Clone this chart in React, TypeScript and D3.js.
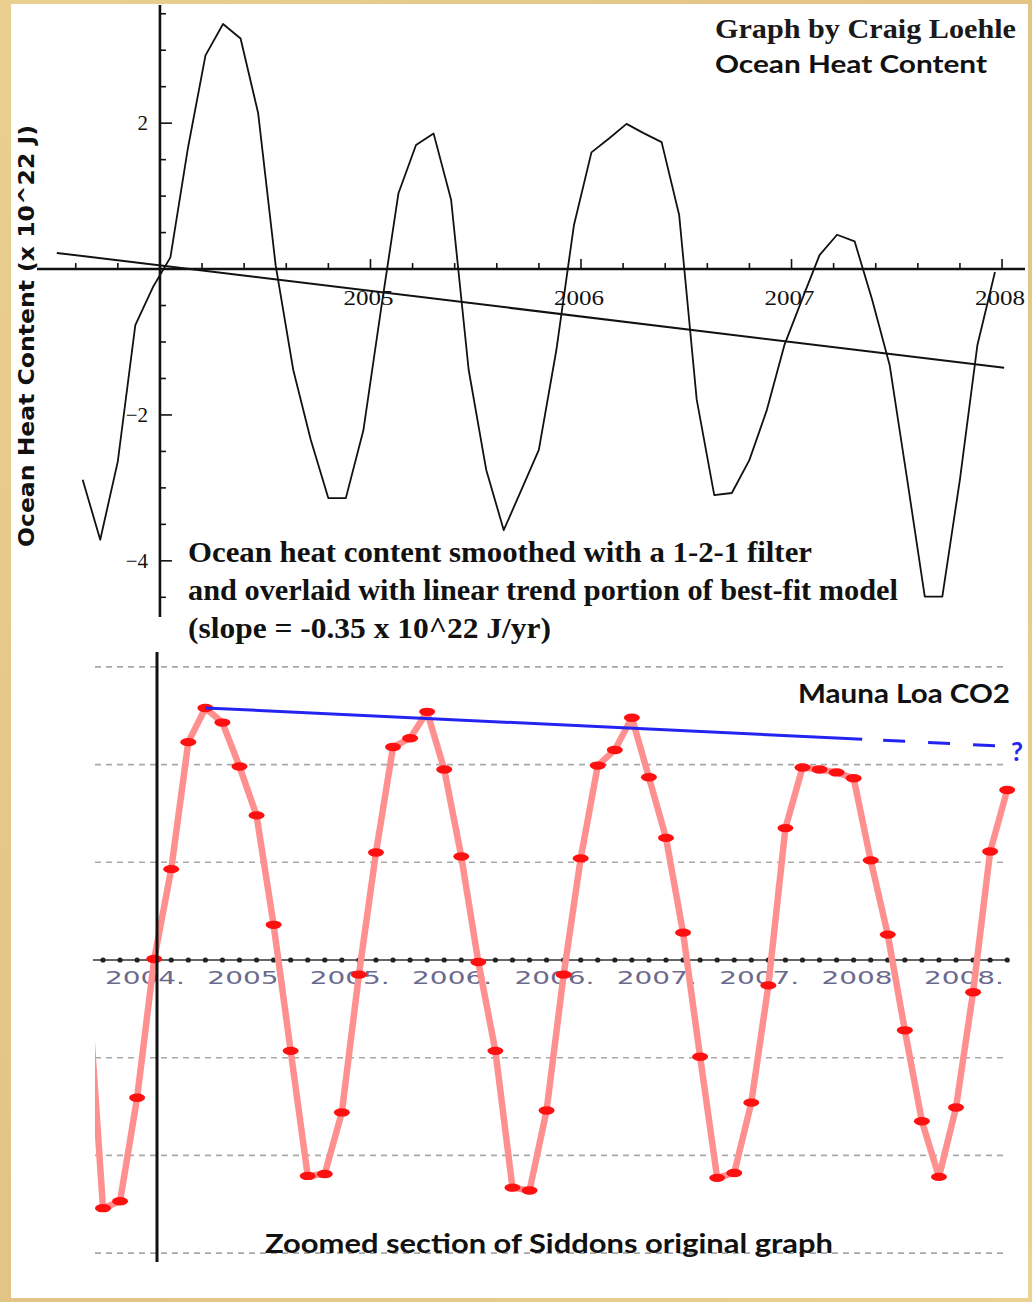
import React from 'react';
import * as d3 from 'd3';

const W = 1032;
const H = 1302;

// ---------- Top panel: Ocean heat content (x 10^22 J), monthly, smoothed ----------
const ohcStartYear = 2003.633;
const ohcValues = [
  -2.89, -3.71, -2.64, -0.77, -0.25, 0.16, 1.66, 2.93, 3.36, 3.16,
  2.14, 0.05, -1.38, -2.34, -3.14, -3.14, -2.21, -0.56, 1.04, 1.7,
  1.86, 0.95, -1.38, -2.75, -3.58, -3.03, -2.48, -1.11, 0.6, 1.6,
  1.79, 1.99, 1.86, 1.74, 0.74, -1.79, -3.1, -3.07, -2.62, -1.93,
  -1.04, -0.42, 0.19, 0.47, 0.38, -0.42, -1.32, -2.89, -4.49, -4.49,
  -2.89, -1.04, -0.04,
];
const trendSlope = -0.35; // x 10^22 J / yr
const trendAt2004 = 0.05;
const trendYears = [2003.51, 2008.01];
const topYearTicks = [2005, 2006, 2007, 2008];
const topYLabelValues = [2, -2, -4];
const topYLabelTexts = ['2', '\u22122', '\u22124'];

// ---------- Bottom panel: Mauna Loa CO2 (zoomed Siddons graph) ----------
const co2FirstMonth = -1;
const co2Values = [
  0.05, -2.54, -2.47, -1.41, 0.01, 0.93, 2.23, 2.58, 2.43, 1.98,
  1.48, 0.36, -0.93, -2.21, -2.19, -1.56, -0.15, 1.1, 2.18, 2.27,
  2.54, 1.95, 1.06, -0.02, -0.93, -2.33, -2.36, -1.54, -0.15, 1.04,
  1.99, 2.15, 2.48, 1.87, 1.25, 0.28, -0.99, -2.23, -2.18, -1.46,
  -0.26, 1.35, 1.97, 1.95, 1.92, 1.86, 1.02, 0.26, -0.72, -1.65,
  -2.22, -1.51, -0.33, 1.11, 1.74,
];
const co2TickLabels = ['2004.', '2005.', '2005.', '2006.', '2006.', '2007.', '2007.', '2008.', '2008.'];
const co2TickMonths = [0, 6, 12, 18, 24, 30, 36, 42, 48];
const co2GridValues = [3, 2, 1, -1, -2, -3];
const blueSolid: [number, number][] = [[6, 2.58], [44.5, 2.26]];
const blueDashed: [number, number][] = [[44.5, 2.26], [52.6, 2.19]];

export default function App() {
  // top scales
  const xTop = d3.scaleLinear().domain([2003.416, 2008.109]).range([37, 1025]);
  const yTop = d3.scaleLinear().domain([-4.77, 3.62]).range([617, 5]);
  const ohcData = ohcValues.map((v, i) => ({ t: ohcStartYear + i / 12, v }));
  const ohcLine = d3.line<{ t: number; v: number }>().x(d => xTop(d.t)).y(d => yTop(d.v));
  const trendData = trendYears.map(t => ({ t, v: trendAt2004 + trendSlope * (t - 2004) }));

  const xMinorTicks = d3.range(0, 23).map(i => Math.round((2003.6 + i * 0.2) * 10) / 10);
  const yMinorTicks = d3.range(0, 17).map(i => -4.5 + i * 0.5).filter(v => v !== 0);

  // bottom scales
  const xBot = d3.scaleLinear().domain([-1, 53]).range([85.94, 1007.2]);
  const yBot = d3.scaleLinear().domain([-3, 3]).range([1253.1, 666.9]);
  const co2Data = co2Values.map((v, i) => ({ m: co2FirstMonth + i, v }));
  const co2Line = d3.line<{ m: number; v: number }>().x(d => xBot(d.m)).y(d => yBot(d.v));
  const pairLine = d3.line<[number, number]>().x(d => xBot(d[0])).y(d => yBot(d[1]));
  const axisDots = d3.range(0, 54);

  const serif = '"Liberation Serif", "Times New Roman", serif';
  const sans = 'Lato, "Open Sans", sans-serif';

  return (
    <svg width={W} height={H} style={{ position: 'absolute', left: 0, top: 0, display: 'block' }}>
      <defs>
        <linearGradient id="parch" x1="0" y1="0" x2="1" y2="1">
          <stop offset="0" stopColor="#e9cf90" />
          <stop offset="0.5" stopColor="#e2c485" />
          <stop offset="1" stopColor="#ead295" />
        </linearGradient>
        <clipPath id="botClip">
          <rect x={95} y={640} width={930} height={640} />
        </clipPath>
      </defs>
      <rect x={0} y={0} width={W} height={H} fill="url(#parch)" />
      <rect x={11} y={4} width={1017} height={1294} fill="#ffffff" />

      {/* ---------------- Top panel ---------------- */}
      <line x1={xTop.range()[0]} x2={xTop.range()[1]} y1={yTop(0)} y2={yTop(0)} stroke="#111" strokeWidth={2.4} />
      {xMinorTicks.map(t => {
        const major = Math.abs(t - Math.round(t)) < 1e-6;
        return (
          <line key={'xt' + t} x1={xTop(t)} x2={xTop(t)} y1={yTop(0)} y2={yTop(0) - (major ? 10 : 6)} stroke="#111" strokeWidth={1.6} />
        );
      })}
      {topYearTicks.map(t => (
        <text key={'xl' + t} x={xTop(t) - 2} y={305} textAnchor="middle" fontFamily={serif} fontSize={22}
          textLength={50} lengthAdjust="spacingAndGlyphs" fill="#111">{t}</text>
      ))}
      <line x1={xTop(2004)} x2={xTop(2004)} y1={yTop.range()[1]} y2={yTop.range()[0]} stroke="#111" strokeWidth={2.6} />
      {yMinorTicks.map(v => {
        const major = topYLabelValues.includes(v);
        return (
          <line key={'yt' + v} x1={xTop(2004)} x2={xTop(2004) + (major ? 12 : 6)} y1={yTop(v)} y2={yTop(v)} stroke="#111" strokeWidth={1.6} />
        );
      })}
      {topYLabelValues.map((v, i) => (
        <text key={'yl' + v} x={148} y={yTop(v) + 7} textAnchor="end" fontFamily={serif} fontSize={21} fill="#111">
          {topYLabelTexts[i]}
        </text>
      ))}
      <path d={ohcLine(trendData) || ''} fill="none" stroke="#111" strokeWidth={2} />
      <path d={ohcLine(ohcData) || ''} fill="none" stroke="#111" strokeWidth={1.8} strokeLinejoin="round" />

      <text transform="translate(34,336) rotate(-90)" textAnchor="middle" fontFamily='"DejaVu Sans", Verdana, sans-serif'
        fontWeight="bold" fontSize={21} textLength={422} lengthAdjust="spacingAndGlyphs" fill="#111">
        Ocean Heat Content (x 10^22 J)
      </text>

      <text x={715} y={38} fontFamily={serif} fontSize={27} fontWeight="bold" textLength={301}
        lengthAdjust="spacingAndGlyphs" fill="#1a1a1a">Graph by Craig Loehle</text>
      <text x={715} y={73} fontFamily={sans} fontSize={25} fontWeight="bold" textLength={272}
        lengthAdjust="spacingAndGlyphs" fill="#111">Ocean Heat Content</text>

      <text x={188} y={562} fontFamily={serif} fontSize={29} fontWeight="bold" textLength={624}
        lengthAdjust="spacingAndGlyphs" fill="#111">Ocean heat content smoothed with a 1-2-1 filter</text>
      <text x={188} y={600} fontFamily={serif} fontSize={29} fontWeight="bold" textLength={710}
        lengthAdjust="spacingAndGlyphs" fill="#111">and overlaid with linear trend portion of best-fit model</text>
      <text x={188} y={638} fontFamily={serif} fontSize={29} fontWeight="bold" textLength={363}
        lengthAdjust="spacingAndGlyphs" fill="#111">(slope = -0.35 x 10^22 J/yr)</text>

      {/* ---------------- Bottom panel ---------------- */}
      {co2GridValues.map(v => (
        <line key={'g' + v} x1={95} x2={1003} y1={yBot(v)} y2={yBot(v)} stroke="#a8a8a8" strokeWidth={1.6} strokeDasharray="6 5" />
      ))}
      <line x1={93} x2={1005} y1={yBot(0)} y2={yBot(0)} stroke="#666" strokeWidth={2} />
      {axisDots.map(m => (
        <circle key={'d' + m} cx={xBot(m)} cy={yBot(0)} r={2.6} fill="#222" />
      ))}
      {co2TickMonths.map((m, i) => (
        <text key={'bl' + i} x={xBot(m) + 2} y={984} fontFamily='"DejaVu Sans", sans-serif' fontSize={18}
          textLength={80} lengthAdjust="spacingAndGlyphs" fill="#6c6a8c">{co2TickLabels[i]}</text>
      ))}

      <g clipPath="url(#botClip)">
        <path d={co2Line(co2Data) || ''} fill="none" stroke="#ff9090" strokeWidth={6.5} strokeLinejoin="round" />
      </g>
      {co2Data.filter(d => xBot(d.m) >= 95).map(d => (
        <ellipse key={'p' + d.m} cx={xBot(d.m)} cy={yBot(d.v)} rx={8} ry={4.2} fill="#ff1010" />
      ))}

      <line x1={157} x2={157} y1={652} y2={1262} stroke="#111" strokeWidth={3} />

      <path d={pairLine(blueSolid) || ''} fill="none" stroke="#2424f2" strokeWidth={3} />
      <path d={pairLine(blueDashed) || ''} fill="none" stroke="#2424f2" strokeWidth={3} strokeDasharray="22 23" strokeDashoffset={-21} />
      <text x={1017} y={761} textAnchor="middle" fontFamily={sans} fontWeight="bold" fontSize={26} fill="#2424f2">?</text>

      <text x={798} y={703} fontFamily={sans} fontSize={26} fontWeight="bold" textLength={212}
        lengthAdjust="spacingAndGlyphs" fill="#111">Mauna Loa CO2</text>
      <text x={265} y={1253} fontFamily={sans} fontSize={26} fontWeight="bold" textLength={568}
        lengthAdjust="spacingAndGlyphs" fill="#111">Zoomed section of Siddons original graph</text>
    </svg>
  );
}
